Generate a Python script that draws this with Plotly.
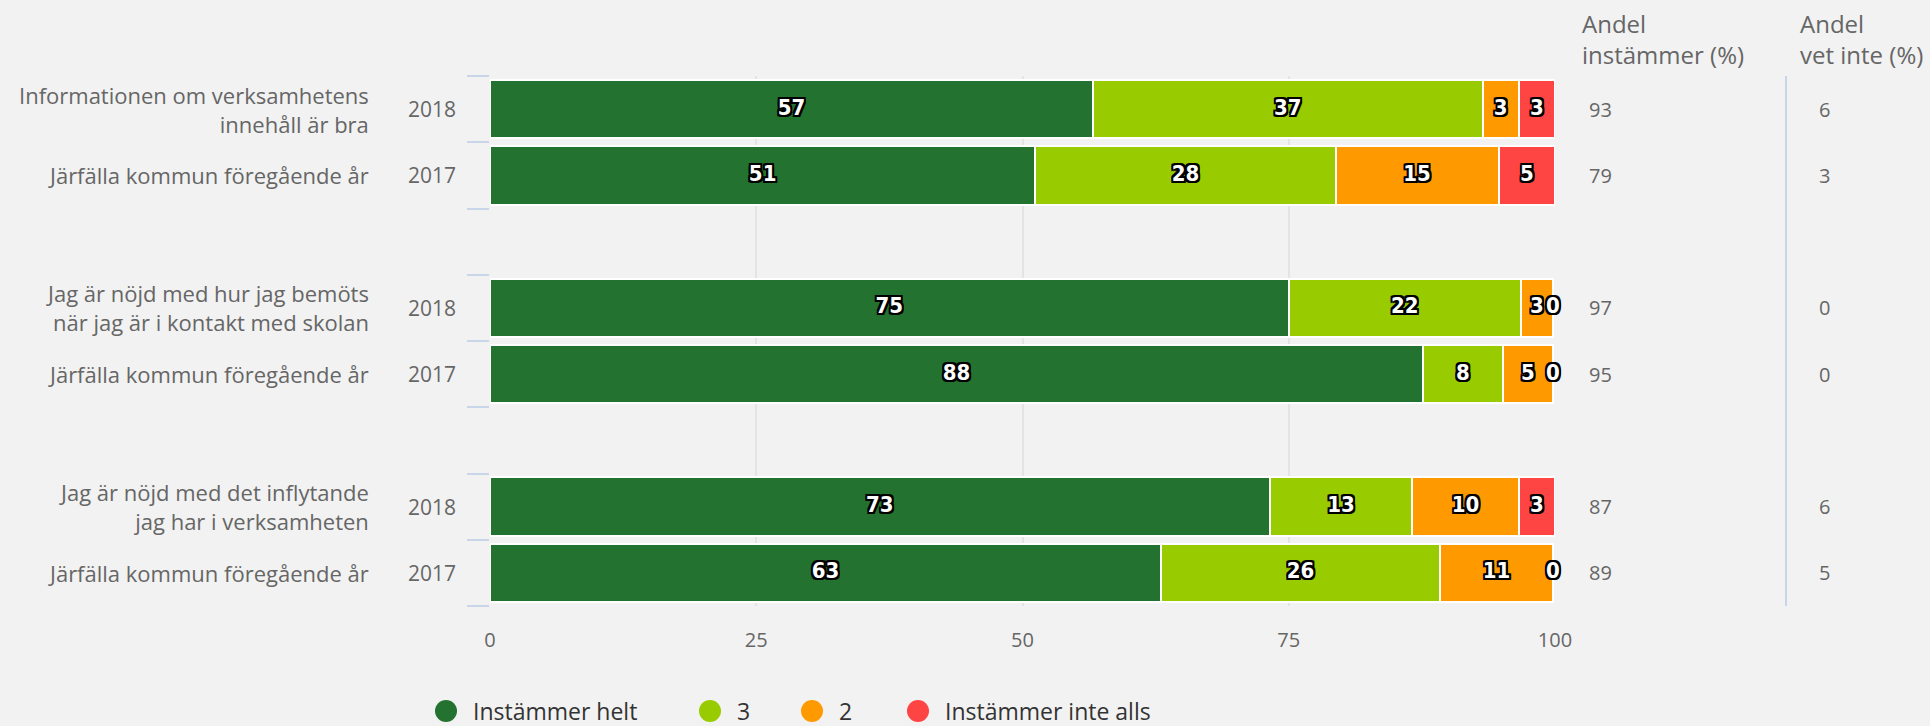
import plotly.graph_objects as go

# ---------------- data ----------------
questions = [
    "Informationen om verksamhetens<br>innehåll är bra",
    "Jag är nöjd med hur jag bemöts<br>när jag är i kontakt med skolan",
    "Jag är nöjd med det inflytande<br>jag har i verksamheten",
]
comparison_label = "Järfälla kommun föregående år"
years = ["2018", "2017"]
series_names = ["Instämmer helt", "3", "2", "Instämmer inte alls"]
colors = ["#247230", "#99cc00", "#ff9900", "#ff4444"]

# rows: Q1 2018, Q1 2017, Q2 2018, Q2 2017, Q3 2018, Q3 2017
instammer_helt = [56.6, 51.2, 75.0, 87.6, 73.2, 63.0]
grade_3 = [36.6, 28.2, 21.8, 7.5, 13.4, 26.2]
grade_2 = [3.4, 15.3, 3.0, 4.7, 10.0, 10.6]
instammer_inte_alls = [3.4, 5.3, 0.0, 0.0, 3.4, 0.0]
andel_instammer = [93, 79, 97, 95, 87, 89]
andel_vet_inte = [6, 3, 0, 0, 6, 5]
x_ticks = [0, 25, 50, 75, 100]
header_instammer = "Andel<br>instämmer (%)"
header_vet_inte = "Andel<br>vet inte (%)"

series = [instammer_helt, grade_3, grade_2, instammer_inte_alls]

# ---------------- layout geometry ----------------
W, H = 1930, 726
ML, MR, MT, MB = 490, 375, 76, 120
PW = W - ML - MR
PH = H - MT - MB
FONT = "Open Sans"
GRAY = "#666666"


def px_x(p):
    return (p - ML) / PW


def px_y(p):
    return (H - MB - p) / PH


row_pos = [0, 1, 3, 4, 6, 7]

fig = go.Figure()

for name, vals, col in zip(series_names, series, colors):
    fig.add_trace(go.Bar(
        orientation="h", x=vals, y=row_pos, name=name,
        marker=dict(color=col, line=dict(color="white", width=2)),
        width=0.88, showlegend=False,
        hovertemplate=name + ": %{x:.0f}<extra></extra>",
    ))

# bar value labels (centred in each segment)
lx, ly, lt = [], [], []
for r, y in enumerate(row_pos):
    start = 0.0
    for vals in series:
        v = vals[r]
        lx.append(start + v / 2)
        ly.append(y)
        lt.append(f"{v:.0f}")
        start += v
o = "2px"
outline = (f"-{o} -{o} 0 #000, {o} -{o} 0 #000, -{o} {o} 0 #000, {o} {o} 0 #000, "
           f"0 {o} 0 #000, 0 -{o} 0 #000, {o} 0 0 #000, -{o} 0 0 #000")
fig.add_trace(go.Scatter(
    x=lx, y=ly, text=lt, mode="text", showlegend=False, hoverinfo="skip",
    cliponaxis=False,
    textfont=dict(family="Liberation Sans Narrow, DejaVu Sans Condensed", size=22,
                  color="white", weight="bold", shadow=outline),
))

annotations = []
# left labels
for qi, q in enumerate(questions):
    y18, y17 = row_pos[2 * qi], row_pos[2 * qi + 1]
    annotations.append(dict(x=px_x(371), y=y18, xref="paper", yref="y", text=q,
                            xanchor="right", yanchor="middle", align="right",
                            showarrow=False, font=dict(family=FONT, size=22, color=GRAY)))
    annotations.append(dict(x=px_x(371), y=y17, xref="paper", yref="y",
                            text=comparison_label, xanchor="right", yanchor="middle",
                            align="right", showarrow=False,
                            font=dict(family=FONT, size=22, color=GRAY)))
    for yy, yr in zip((y18, y17), years):
        annotations.append(dict(x=px_x(458), y=yy, xref="paper", yref="y", text=yr,
                                xanchor="right", yanchor="middle", showarrow=False,
                                font=dict(family=FONT, size=21, color=GRAY)))

# right columns
for r, y in enumerate(row_pos):
    annotations.append(dict(x=px_x(1587), y=y, xref="paper", yref="y",
                            text=str(andel_instammer[r]), xanchor="left", yanchor="middle",
                            showarrow=False, font=dict(family=FONT, size=20, color=GRAY)))
    annotations.append(dict(x=px_x(1817), y=y, xref="paper", yref="y",
                            text=str(andel_vet_inte[r]), xanchor="left", yanchor="middle",
                            showarrow=False, font=dict(family=FONT, size=20, color=GRAY)))
for hx, ht in ((1580, header_instammer), (1798, header_vet_inte)):
    annotations.append(dict(x=px_x(hx), y=px_y(39), xref="paper", yref="paper", text=ht,
                            xanchor="left", yanchor="middle", align="left",
                            showarrow=False, font=dict(family=FONT, size=24, color=GRAY)))

# manual legend
shapes = [dict(type="line", xref="paper", yref="paper", x0=px_x(1786), x1=px_x(1786),
               y0=0, y1=1, line=dict(color="#c9d6ea", width=2))]
legend_x = [446, 710, 812, 918]
for cx, name, col in zip(legend_x, series_names, colors):
    shapes.append(dict(type="circle", xref="paper", yref="paper",
                       xsizemode="pixel", ysizemode="pixel",
                       xanchor=px_x(cx), yanchor=px_y(711),
                       x0=-11, x1=11, y0=-11, y1=11,
                       fillcolor=col, line=dict(width=0)))
    annotations.append(dict(x=px_x(cx + 25), y=px_y(711), xref="paper", yref="paper",
                            text=name, xanchor="left", yanchor="middle", showarrow=False,
                            font=dict(family=FONT, size=23, color="#333333")))

fig.update_layout(
    width=W, height=H, barmode="stack",
    margin=dict(l=ML, r=MR, t=MT, b=MB, autoexpand=False),
    paper_bgcolor="#f2f2f2", plot_bgcolor="#f2f2f2",
    showlegend=False, annotations=annotations, shapes=shapes,
    font=dict(family=FONT, color=GRAY),
    xaxis=dict(range=[0, 100], tickvals=x_ticks, showgrid=True, gridcolor="#e4e4e4",
               gridwidth=2, zeroline=False, showline=False, ticks="",
               tickfont=dict(family=FONT, size=20, color=GRAY), ticklabelstandoff=20,
               fixedrange=True),
    yaxis=dict(range=[7.5, -0.5], tickvals=[i - 0.5 for i in range(9)],
               showticklabels=False, ticks="outside", ticklen=22, tickwidth=2,
               tickcolor="#c9d6ea", showgrid=False, zeroline=False, showline=False,
               fixedrange=True),
)

fig.write_html("out.html", config={"displayModeBar": False},
               post_script="document.body.style.margin='0';")
